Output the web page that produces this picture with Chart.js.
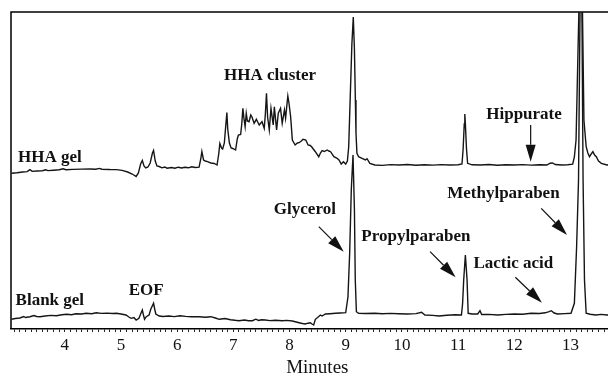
<!DOCTYPE html>
<html><head><meta charset="utf-8">
<script src="https://cdn.jsdelivr.net/npm/chart.js@4.4.1/dist/chart.umd.min.js"></script>
<style>
html,body{margin:0;padding:0;overflow:hidden;background:#fff;width:608px;height:378px;}
#wrap{position:relative;width:626px;height:378px;}
</style></head><body>
<div id="wrap"><canvas id="c" width="626" height="378"></canvas></div>
<script>
// ---- data (minutes, detector signal in arbitrary units) ----
const hhaMinutes = [3.05,3.15,3.25,3.33,3.38,3.42,3.50,3.60,3.66,3.70,3.80,3.90,3.97,4.02,4.15,4.30,4.45,4.55,4.62,4.66,4.80,4.92,5.02,5.12,5.20,5.27,5.31,5.35,5.38,5.41,5.44,5.48,5.52,5.56,5.58,5.61,5.64,5.68,5.73,5.78,5.82,5.90,5.96,6.02,6.08,6.14,6.20,6.26,6.32,6.39,6.42,6.44,6.47,6.50,6.54,6.60,6.66,6.71,6.74,6.76,6.79,6.81,6.84,6.86,6.885,6.90,6.93,6.96,6.99,7.04,7.07,7.09,7.13,7.15,7.17,7.19,7.21,7.23,7.25,7.28,7.31,7.33,7.37,7.41,7.46,7.51,7.55,7.57,7.59,7.61,7.64,7.67,7.71,7.73,7.77,7.80,7.84,7.87,7.91,7.93,7.955,7.97,7.99,8.02,8.05,8.10,8.14,8.17,8.21,8.24,8.29,8.33,8.37,8.40,8.46,8.52,8.55,8.58,8.62,8.67,8.70,8.73,8.79,8.84,8.88,8.92,8.96,9.00,9.03,9.053,9.083,9.11,9.135,9.155,9.172,9.183,9.20,9.23,9.29,9.35,9.38,9.43,9.52,9.65,9.80,9.95,10.10,10.25,10.40,10.55,10.70,10.85,11.00,11.07,11.09,11.11,11.12,11.13,11.15,11.17,11.25,11.40,11.55,11.70,11.85,12.00,12.15,12.30,12.45,12.58,12.64,12.68,12.73,12.85,12.95,13.04,13.07,13.10,13.12,13.19,13.24,13.28,13.31,13.34,13.37,13.40,13.43,13.46,13.50,13.55,13.65,13.80,13.95];
const hhaSignal = [155.7,156.2,157.0,157.4,159.3,157.6,158.0,158.3,159.2,158.4,158.8,159.2,160.2,159.3,159.6,159.9,160.0,159.8,160.6,159.8,159.5,159.4,158.6,157.0,155.0,152.5,156.0,165.0,168.5,163.0,161.0,162.0,166.0,176.0,178.5,168.0,163.0,162.5,161.2,162.0,160.8,161.5,160.8,161.8,161.0,161.7,161.2,162.2,161.5,161.8,170.0,177.5,169.0,168.0,167.3,166.0,165.5,164.0,175.0,185.5,181.0,180.0,186.0,200.0,216.5,200.0,186.0,181.0,180.5,179.0,190.0,194.0,194.5,205.0,220.7,210.0,202.3,215.7,208.0,207.3,214.0,212.3,205.7,209.7,204.0,207.3,200.7,215.0,235.7,212.0,199.0,220.7,204.0,222.3,199.0,215.7,220.7,205.7,219.0,210.7,225.0,233.0,226.0,212.3,189.0,184.0,186.0,186.3,188.0,189.7,189.0,184.0,183.5,181.7,177.3,172.3,176.0,178.3,177.5,179.0,178.0,177.3,172.3,171.0,169.0,165.0,167.3,165.0,168.0,182.0,236.0,285.0,312.0,280.0,229.0,196.0,175.7,172.3,170.7,169.0,170.3,165.7,164.0,163.6,164.4,164.0,164.5,163.8,164.3,163.9,164.4,164.0,164.3,165.0,180.0,205.0,215.0,205.0,180.0,165.7,164.2,164.0,164.5,163.8,164.2,164.0,164.4,163.9,164.3,164.0,165.8,166.0,164.5,164.0,164.3,164.8,172.0,189.0,240.0,420.0,209.0,182.3,176.0,172.3,175.0,177.3,174.0,172.3,168.0,165.7,164.0,164.3,164.0];

const blankMinutes = [3.05,3.12,3.20,3.27,3.30,3.38,3.45,3.50,3.56,3.65,3.75,3.85,3.95,4.03,4.12,4.20,4.30,4.38,4.48,4.56,4.65,4.75,4.85,4.92,5.00,5.09,5.14,5.18,5.23,5.27,5.32,5.35,5.38,5.40,5.42,5.45,5.50,5.53,5.58,5.60,5.62,5.68,5.75,5.85,5.95,6.05,6.15,6.25,6.39,6.50,6.60,6.68,6.75,6.85,6.95,7.03,7.10,7.20,7.27,7.34,7.40,7.45,7.50,7.57,7.65,7.75,7.87,7.95,8.05,8.12,8.17,8.23,8.28,8.33,8.37,8.40,8.43,8.46,8.50,8.55,8.58,8.64,8.72,8.82,8.90,9.00,9.04,9.07,9.10,9.13,9.155,9.17,9.19,9.23,9.35,9.52,9.65,9.80,9.94,10.10,10.25,10.35,10.41,10.55,10.66,10.80,10.95,11.06,11.08,11.10,11.13,11.16,11.18,11.25,11.35,11.39,11.42,11.55,11.71,11.85,12.00,12.15,12.30,12.45,12.55,12.62,12.66,12.71,12.77,12.90,13.01,13.07,13.11,13.144,13.19,13.225,13.25,13.28,13.35,13.45,13.55,13.65,13.80,13.95];
const blankSignal = [9.7,10.5,11.0,12.5,11.5,12.3,13.5,12.5,12.3,13.0,13.6,13.3,14.2,14.7,14.3,15.2,15.0,15.7,15.3,16.2,15.6,15.9,15.5,15.7,15.0,14.0,12.0,10.7,11.5,9.0,10.7,15.0,19.0,14.0,9.7,12.3,14.0,19.7,25.7,20.0,15.0,13.0,12.5,13.0,12.4,13.2,12.6,12.3,12.3,11.8,12.3,11.0,9.7,10.5,9.3,8.7,8.3,9.0,8.2,8.3,9.8,8.6,9.3,9.0,8.4,8.8,8.3,8.6,8.0,7.0,6.3,5.5,5.0,5.8,6.3,5.0,4.0,9.7,11.5,14.0,13.0,15.0,15.3,15.7,16.0,16.3,32.0,75.0,140.0,174.0,120.0,50.0,17.3,15.7,15.5,15.7,15.3,15.6,15.3,15.0,15.4,16.8,14.0,13.6,13.0,13.8,14.2,14.0,25.0,49.0,74.0,49.0,15.7,15.0,15.0,18.3,14.5,14.6,14.0,14.6,15.0,14.8,15.7,15.5,16.2,17.3,18.3,16.0,15.0,15.4,15.7,25.7,82.3,149.0,440.0,149.0,49.0,15.7,14.8,14.0,14.6,14.0,14.3,14.0];

const tickValues = [4,5,6,7,8,9,10,11,12,13];
const axisTitle = 'Minutes';

// annotation texts and anchors (minutes, signal)
const annotationTexts = ['HHA cluster','HHA gel','Hippurate','Glycerol','Propylparaben','Lactic acid','Methylparaben','Blank gel','EOF'];
const annotationX = [7.652,3.734,12.174,8.273,10.25,11.984,11.807,3.734,5.449];
const annotationY = [249,167.5,210.5,115.5,88.5,61,131,24,34];
const arrowFromX = [12.292,8.521,10.502,12.019,12.48];
const arrowFromY = [204,102.3,77.3,51.7,120.7];
const arrowToX = [12.292,8.965,10.956,12.493,12.94];
const arrowToY = [167.3,77.3,51.7,26.3,94];

const toPoints = (xs, ys) => xs.map((v, i) => ({x: v, y: ys[i]}));

const framePlugin = {
  id: 'frame',
  beforeDatasetsDraw(chart) {
    const {ctx, chartArea: a} = chart;
    ctx.save();
    ctx.strokeStyle = '#000';
    ctx.lineWidth = 1.5;
    ctx.beginPath();
    ctx.moveTo(a.left, a.bottom);
    ctx.lineTo(a.left, a.top);
    ctx.lineTo(a.right, a.top);
    ctx.stroke();
    ctx.restore();
  }
};

const annotatePlugin = {
  id: 'annotate',
  afterDatasetsDraw(chart) {
    const {ctx, scales: {x, y}} = chart;
    ctx.save();
    ctx.fillStyle = '#111';
    ctx.strokeStyle = '#111';
    ctx.font = 'bold 17px "Liberation Serif"';
    ctx.textAlign = 'center';
    ctx.textBaseline = 'alphabetic';
    annotationTexts.forEach((t, i) => {
      ctx.fillText(t, x.getPixelForValue(annotationX[i]), y.getPixelForValue(annotationY[i]));
    });
    ctx.lineWidth = 1.2;
    arrowFromX.forEach((_, i) => {
      const x0 = x.getPixelForValue(arrowFromX[i]), y0 = y.getPixelForValue(arrowFromY[i]);
      const x1 = x.getPixelForValue(arrowToX[i]), y1 = y.getPixelForValue(arrowToY[i]);
      const ang = Math.atan2(y1 - y0, x1 - x0);
      const L = 17, W = 5;
      const bx = x1 - L * Math.cos(ang), by = y1 - L * Math.sin(ang);
      ctx.beginPath();
      ctx.moveTo(x0, y0);
      ctx.lineTo(bx, by);
      ctx.stroke();
      ctx.beginPath();
      ctx.moveTo(x1, y1);
      ctx.lineTo(bx + W * Math.sin(ang), by - W * Math.cos(ang));
      ctx.lineTo(bx - W * Math.sin(ang), by + W * Math.cos(ang));
      ctx.closePath();
      ctx.fill();
    });
    ctx.restore();
  }
};

new Chart(document.getElementById('c'), {
  type: 'line',
  data: {
    datasets: [
      {label: 'HHA gel', data: toPoints(hhaMinutes, hhaSignal), borderColor: '#151515', borderWidth: 1.4, pointRadius: 0, tension: 0},
      {label: 'Blank gel', data: toPoints(blankMinutes, blankSignal), borderColor: '#151515', borderWidth: 1.4, pointRadius: 0, tension: 0}
    ]
  },
  options: {
    responsive: false,
    animation: false,
    events: [],
    layout: {padding: {left: 11, top: 12, right: 0, bottom: 0}},
    plugins: {legend: {display: false}, tooltip: {enabled: false}},
    scales: {
      x: {
        type: 'linear',
        min: 3.0426,
        max: 13.947,
        afterBuildTicks: (scale) => {
          const t = [];
          for (let k = 31; k <= 139; k++) t.push({value: k / 10});
          scale.ticks = t;
        },
        ticks: {
          autoSkip: false,
          maxRotation: 0,
          padding: 5,
          color: '#111',
          font: {family: '"Liberation Serif"', size: 17, lineHeight: 1},
          callback: (v) => {
            const r = Math.round(v);
            return (Math.abs(v - r) < 1e-6 && tickValues.includes(r)) ? String(r) : '';
          }
        },
        grid: {drawOnChartArea: false, drawTicks: true, tickLength: 3, color: '#222', lineWidth: 1},
        border: {display: true, color: '#000', width: 1.5},
        title: {display: true, text: axisTitle, color: '#111', font: {family: '"Liberation Serif"', size: 19, lineHeight: 1}, padding: {top: 0, bottom: 0}}
      },
      y: {
        type: 'linear',
        display: false,
        min: 0,
        max: 317
      }
    }
  },
  plugins: [framePlugin, annotatePlugin]
});
</script>
</body></html>
